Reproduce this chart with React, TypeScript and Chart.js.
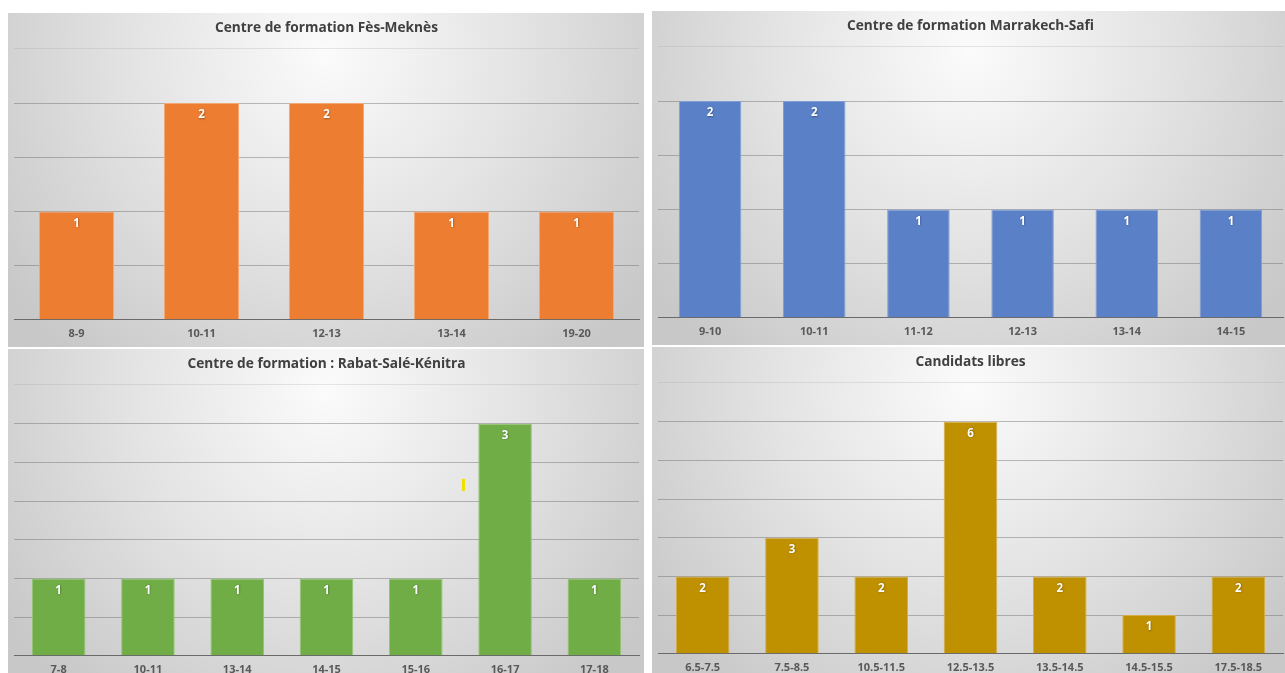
import React, { useEffect, useRef } from 'react';
import { Chart, registerables } from 'chart.js';

Chart.register(...registerables);

// Fès-Meknès
const fesCategories = ['8-9', '10-11', '12-13', '13-14', '19-20'];
const fesCounts = [1, 2, 2, 1, 1];

// Marrakech-Safi
const marrakechCategories = ['9-10', '10-11', '11-12', '12-13', '13-14', '14-15'];
const marrakechCounts = [2, 2, 1, 1, 1, 1];

// Rabat-Salé-Kénitra
const rabatCategories = ['7-8', '10-11', '13-14', '14-15', '15-16', '16-17', '17-18'];
const rabatCounts = [1, 1, 1, 1, 1, 3, 1];

// Candidats libres
const libresCategories = ['6.5-7.5', '7.5-8.5', '10.5-11.5', '12.5-13.5', '13.5-14.5', '14.5-15.5', '17.5-18.5'];
const libresCounts = [2, 3, 2, 6, 2, 1, 2];

const FONT = '"Open Sans", Lato, sans-serif';

// Soft radial light behind each chart
const panelBackground = {
  id: 'panelBackground',
  beforeDraw(chart: any) {
    const { ctx, width, height } = chart;
    const cx = width * 0.5;
    const cy = height * 0.12;
    const g = ctx.createRadialGradient(cx, cy, 0, cx, cy, width * 0.62);
    g.addColorStop(0, '#fbfbfb');
    g.addColorStop(0.5, '#e3e3e3');
    g.addColorStop(1, '#c8c8c8');
    ctx.save();
    ctx.fillStyle = g;
    ctx.fillRect(0, 0, width, height);
    ctx.restore();
  },
};

// White value written just inside the top of each bar
const barValueLabels = {
  id: 'barValueLabels',
  afterDatasetsDraw(chart: any) {
    const { ctx } = chart;
    chart.data.datasets.forEach((ds: any, i: number) => {
      const meta = chart.getDatasetMeta(i);
      meta.data.forEach((bar: any, j: number) => {
        ctx.save();
        ctx.font = `bold 11.5px ${FONT}`;
        ctx.fillStyle = '#ffffff';
        ctx.textAlign = 'center';
        ctx.textBaseline = 'middle';
        ctx.shadowColor = 'rgba(0,0,0,0.35)';
        ctx.shadowBlur = 2;
        ctx.shadowOffsetX = 0.5;
        ctx.shadowOffsetY = 0.5;
        ctx.fillText(String(ds.data[j]), bar.x, bar.y + 12);
        ctx.restore();
      });
    });
  },
};

type PanelProps = {
  title: string;
  labels: string[];
  values: number[];
  color: string;
  edge: string;
  yMax: number;
  yStep: number;
  left: number;
  top: number;
  height: number;
  children?: React.ReactNode;
};

function ChartPanel({ title, labels, values, color, edge, yMax, yStep, left, top, height, children }: PanelProps) {
  const ref = useRef<HTMLCanvasElement | null>(null);

  useEffect(() => {
    if (!ref.current) return;
    const chart = new Chart(ref.current, {
      type: 'bar',
      data: {
        labels,
        datasets: [
          {
            data: values,
            backgroundColor: color,
            borderColor: edge,
            borderWidth: 1,
            barPercentage: 0.6,
            categoryPercentage: 1,
          },
        ],
      },
      options: {
        responsive: false,
        animation: false,
        layout: { padding: { left: 6, right: 5, top: 0, bottom: 0 } },
        plugins: {
          legend: { display: false },
          tooltip: { enabled: false },
          title: {
            display: true,
            text: title,
            color: '#404040',
            font: { family: FONT, size: 13.7, weight: 'bold' },
            padding: { top: 7, bottom: 12.5 },
          },
        },
        scales: {
          x: {
            grid: { display: false, drawTicks: false },
            border: { display: true, color: '#6a6a6a', width: 1 },
            ticks: {
              color: '#595959',
              font: { family: FONT, size: 11, weight: 'bold' },
              padding: 7,
              maxRotation: 0,
              autoSkip: false,
            },
          },
          y: {
            min: 0,
            max: yMax,
            ticks: { display: false, stepSize: yStep },
            grid: {
              drawTicks: false,
              lineWidth: 1,
              color: (c: any) =>
                c.tick && c.tick.value === yMax ? 'rgba(150,150,150,0.22)' : 'rgba(100,100,100,0.42)',
            },
            border: { display: false },
          },
        },
      },
      plugins: [panelBackground, barValueLabels],
    } as any);
    return () => chart.destroy();
  }, []);

  return (
    <div style={{ position: 'absolute', left, top, width: 636, height }}>
      <canvas ref={ref} width={636} height={334} style={{ display: 'block' }} />
      {children}
    </div>
  );
}

export default function App() {
  return (
    <div
      style={{
        position: 'fixed',
        left: 0,
        top: 0,
        width: 1285,
        height: 673,
        overflow: 'hidden',
        background: '#ffffff',
      }}
    >
      <ChartPanel
        title="Centre de formation Fès-Meknès"
        labels={fesCategories}
        values={fesCounts}
        color="#ED7D31"
        edge="#F3A774"
        yMax={2.5}
        yStep={0.5}
        left={8}
        top={13}
        height={333}
      />
      <ChartPanel
        title="Centre de formation Marrakech-Safi"
        labels={marrakechCategories}
        values={marrakechCounts}
        color="#5A80C8"
        edge="#7F9ED8"
        yMax={2.5}
        yStep={0.5}
        left={652}
        top={11}
        height={334}
      />
      <ChartPanel
        title="Centre de formation : Rabat-Salé-Kénitra"
        labels={rabatCategories}
        values={rabatCounts}
        color="#70AD47"
        edge="#93C572"
        yMax={3.5}
        yStep={0.5}
        left={8}
        top={349}
        height={334}
      >
        {/* small yellow cursor mark */}
        <div style={{ position: 'absolute', left: 454, top: 130, width: 3, height: 12, background: '#F0E000' }} />
      </ChartPanel>
      <ChartPanel
        title="Candidats libres"
        labels={libresCategories}
        values={libresCounts}
        color="#BF9000"
        edge="#D4AE45"
        yMax={7}
        yStep={1}
        left={652}
        top={347}
        height={334}
      />
    </div>
  );
}
